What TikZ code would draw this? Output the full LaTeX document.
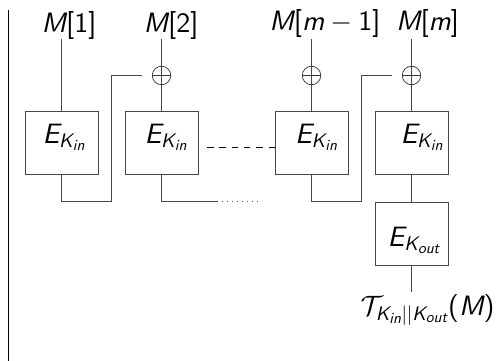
\RequirePackage{fix-cm}
\documentclass[tikz,border=0pt]{standalone}
\usepackage{amsmath}
\usepackage{fontspec}
\setsansfont{lmsans10-regular.otf}[ItalicFont=lmsans10-oblique.otf]
\DeclareMathSizes{28}{28}{19.6}{15.4}
\newcommand{\sfi}[1]{\textsf{\itshape #1}}
\newcommand{\sfr}[1]{\textsf{#1}}
\begin{document}
\begin{tikzpicture}[x=1pt,y=-1pt,
  wire/.style={draw=black!72, line width=0.9pt},
  blk/.style={draw=black!72, line width=0.9pt, minimum width=73pt, minimum height=63pt, inner sep=0pt},
  xo/.style={draw=black!80, line width=0.7pt, circle, minimum size=18.5pt, inner sep=0pt,
    path picture={\draw[black!80, line width=0.7pt] (path picture bounding box.west) -- (path picture bounding box.east);}},
  lbl/.style={font=\fontsize{28}{33}\selectfont, inner sep=0pt, anchor=base}]
\useasboundingbox (0,0) rectangle (503,361);
\draw[line width=1pt] (8,10) -- (8,361);
% blocks
\node[blk] (b1) at (61.5,142.5) {};
\node[blk] (b2) at (161.5,142.5) {};
\node[blk] (b3) at (311.5,142.5) {};
\node[blk] (b4) at (411.5,142.5) {};
\node[blk] (bo) at (411.5,233.5) {};
% block texts
\node[lbl] (e1) at (64,143) {$\sfi{E}_{\sfi{K}_{\sfi{in}}}$};
\node[lbl] (e2) at (166,143) {$\sfi{E}_{\sfi{K}_{\sfi{in}}}$};
\node[lbl] (e3) at (316.5,143) {$\sfi{E}_{\sfi{K}_{\sfi{in}}}$};
\node[lbl] (e4) at (422,143) {$\sfi{E}_{\sfi{K}_{\sfi{in}}}$};
\node[lbl] (eo) at (414,246.5) {$\sfi{E}_{\sfi{K}_{\sfi{out}}}$};
% xor
\node[xo] (x2) at (161.5,75.5) {};
\node[xo] (x3) at (311.5,75.5) {};
\node[xo] (x4) at (411.5,75.5) {};
% input labels
\node[lbl] (m1) at (69,33) {$\sfi{M}\sfr{[1]}$};
\node[lbl] (m2) at (171,33) {$\sfi{M}\sfr{[2]}$};
\node[lbl] (m3) at (325,31) {$\sfi{M}\sfr{[}\sfi{m}-\sfr{1]}$};
\node[lbl] (m4) at (427.5,31) {$\sfi{M}\sfr{[}\sfi{m}\sfr{]}$};
\node[lbl] (tag) at (427.5,315) {$\mathcal{T}_{\sfi{K}_{\sfi{in}}||\sfi{K}_{\sfi{out}}}\sfr{(}\sfi{M}\sfr{)}$};
% coordinates
\coordinate (t1) at (61.5,39);
\coordinate (t2) at (161.5,39);
\coordinate (t3) at (311.5,39);
\coordinate (t4) at (411.5,39);
\coordinate (f1) at (111,201);
\coordinate (f3) at (361,201);
\coordinate (d1) at (217,201);
\coordinate (d2) at (262,201);
\coordinate (ds) at (207,147);
\coordinate (to) at (411.5,292);
% wires
\draw[wire] (t1) -- (b1.north);
\draw[wire] (t2) -- (x2.north);
\draw[wire] (x2.north) -- (x2.south);
\draw[wire] (x2.south) -- (b2.north);
\draw[wire] (t3) -- (x3.north);
\draw[wire] (x3.north) -- (x3.south);
\draw[wire] (x3.south) -- (b3.north);
\draw[wire] (t4) -- (x4.north);
\draw[wire] (x4.north) -- (x4.south);
\draw[wire] (x4.south) -- (b4.north);
\draw[wire] (b4.south) -- (bo.north);
\draw[wire] (bo.south) -- (to);
\draw[wire] (b1.south) |- (f1) -- (f1 |- x2) -- ([xshift=-9.5pt]x2.west);
\draw[wire] (b3.south) |- (f3) -- (f3 |- x4) -- ([xshift=-9.5pt]x4.west);
\draw[wire] (b2.south) |- (d1);
\draw[black!70, line width=0.9pt, dash pattern=on 1pt off 4pt] (d1) -- (d2);
\draw[black, line width=0.8pt, dash pattern=on 6.5pt off 5.8pt] (ds) -- (ds -| b3.west);
\end{tikzpicture}
\end{document}
